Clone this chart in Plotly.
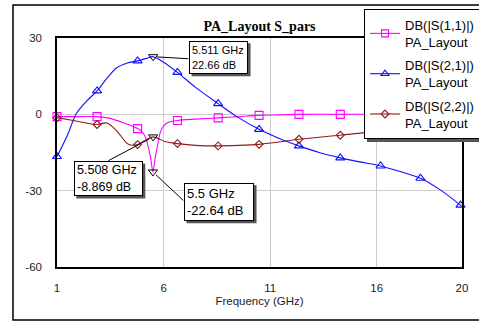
import plotly.graph_objects as go

# ---------------- data ----------------
s11_freq = [1.0, 2.0, 2.86, 3.5, 4.2, 4.78, 5.0, 5.15, 5.3, 5.4, 5.5, 5.6, 5.7, 5.85,
            6.0, 6.2, 6.65, 7.5, 8.56, 9.5, 10.48, 11.4, 12.35, 14.29, 16.18, 18.05, 20.0]
s11_db = [-0.9, -0.9, -0.9, -1.6, -3.6, -5.6, -7.0, -9.0, -13.5, -17.5, -22.64, -17.5, -13.0, -7.0,
          -4.6, -3.2, -2.4, -1.9, -1.4, -0.9, -0.4, -0.2, 0.0, 0.0, 0.1, 0.1, 0.1]

s21_freq = [1.0, 1.5, 1.9, 2.4, 2.88, 3.3, 3.8, 4.3, 4.78, 5.2, 5.511, 6.0, 6.65, 7.5, 8.56,
            9.4, 10.48, 11.4, 12.35, 13.3, 14.29, 15.2, 16.18, 17.1, 18.05, 19.0, 20.0]
s21_db = [-16.6, -8.0, 0.2, 5.3, 9.2, 13.7, 18.3, 20.2, 21.0, 22.0, 22.66, 20.5, 16.5, 10.6, 4.2,
          -0.7, -5.9, -9.4, -12.4, -15.0, -17.1, -18.7, -20.3, -22.5, -25.1, -29.8, -36.2]

s22_freq = [1.0, 1.9, 2.86, 3.35, 3.8, 4.35, 4.78, 5.1, 5.508, 6.1, 6.65, 7.5, 8.56, 9.5,
            10.48, 11.4, 12.35, 13.3, 14.29, 16.18, 18.05, 20.0]
s22_db = [-1.3, -2.6, -4.0, -3.4, -6.5, -11.8, -11.9, -10.4, -8.869, -10.8, -11.5, -12.2, -12.4, -12.2,
          -11.8, -10.9, -9.8, -9.0, -8.2, -6.6, -5.5, -4.5]

# symbol markers along each trace
mark_freq = [1.0, 2.88, 4.78, 6.65, 8.56, 10.48, 12.35, 14.29, 16.18, 18.05, 19.93]
s11_mark = [-0.9, -0.9, -5.6, -2.4, -1.4, -0.4, 0.0, 0.0, 0.1, 0.1, 0.1]
s21_mark = [-16.6, 9.2, 21.0, 16.5, 4.2, -5.9, -12.4, -17.1, -20.3, -25.1, -35.7]
s22_mark = [-1.3, -4.0, -11.9, -11.5, -12.4, -11.8, -9.8, -8.2, -6.6, -5.5, -4.5]

# marker readouts
readout_freq = [5.511, 5.508, 5.5]
readout_db = [22.66, -8.869, -22.64]

series_names = ["DB(|S(1,1)|)<br>PA_Layout", "DB(|S(2,1)|)<br>PA_Layout", "DB(|S(2,2)|)<br>PA_Layout"]
x_ticks = [1, 6, 11, 16, 20]
y_ticks = [30, 0, -30, -60]

# ---------------- figure ----------------
W, H = 479, 322
ML, MR, MT, MB = 57, 17, 38, 55
PW, PH = W - ML - MR, H - MT - MB

def px2paper(px, py):
    return (px - ML) / PW, (H - MB - py) / PH

FONT = "Liberation Sans, Arial, sans-serif"
colors = ["#FF00FF", "#1010FF", "#8E1B1B"]
symbols = ["square-open", "triangle-up-open", "diamond-open"]
msizes = [8, 8, 6]
curves = [(s11_freq, s11_db), (s21_freq, s21_db), (s22_freq, s22_db)]
marks = [s11_mark, s21_mark, s22_mark]

fig = go.Figure()
for i in range(3):
    fx, fy = curves[i]
    fig.add_trace(go.Scatter(x=fx, y=fy, mode="lines", line=dict(color=colors[i], width=1.1, shape="spline", smoothing=0.8),
                             showlegend=False, hoverinfo="skip", legendgroup=f"g{i}"))
    fig.add_trace(go.Scatter(x=mark_freq, y=marks[i], mode="markers", cliponaxis=False,
                             marker=dict(symbol=symbols[i], size=msizes[i], color=colors[i], line=dict(width=1.1, color=colors[i])),
                             showlegend=False, legendgroup=f"g{i}"))
    fig.add_trace(go.Scatter(x=[None], y=[None], mode="lines+markers", name=series_names[i], legendgroup=f"g{i}",
                             line=dict(color=colors[i], width=1.1),
                             marker=dict(symbol=symbols[i], size=7 if i != 2 else 6, color=colors[i], line=dict(width=1.1, color=colors[i]))))

# readout marker symbols
fig.add_trace(go.Scatter(x=readout_freq, y=readout_db, mode="markers", showlegend=False, cliponaxis=False,
                         marker=dict(symbol="triangle-down-open", size=8, color="black", line=dict(width=1, color="black"))))

# readout boxes: (xshift, yshift-up, box W, box H, font size, arrow ax, arrow ay)
box_geo = [(65.4, -0.5, 59, 33, 11, 35.7, 2.1),
           (-44.8, -41.6, 69, 35, 12.5, -45.2, 24.1),
           (66.1, -29.8, 70, 38, 13, 30.9, 29.0)]
shapes = []
for k in range(3):
    xs, ys, bw_, bh_, fs, axp, ayp = box_geo[k]
    fx, fy = readout_freq[k], readout_db[k]
    label = f"{fx:g} GHz<br>{fy:g} dB"
    # leader line
    fig.add_annotation(x=fx, y=fy, xref="x", yref="y", text=" ", font=dict(size=1),
                       showarrow=True, arrowhead=0, arrowwidth=1, arrowcolor="black",
                       ax=axp, ay=ayp, axref="pixel", ayref="pixel", standoff=4, borderpad=0)
    # shadow
    shapes.append(dict(type="rect", xref="x", yref="y", xsizemode="pixel", ysizemode="pixel",
                       xanchor=fx, yanchor=fy,
                       x0=xs - bw_ / 2 + 2.5, x1=xs + bw_ / 2 + 2.5,
                       y0=ys - bh_ / 2 - 2.5, y1=ys + bh_ / 2 - 2.5,
                       fillcolor="#555555", line=dict(width=0), layer="above"))
    fig.add_annotation(x=fx, y=fy, xref="x", yref="y", text=label, showarrow=False,
                       xanchor="center", yanchor="middle", xshift=xs, yshift=ys,
                       width=bw_ - 6, height=bh_ - 6, borderpad=2, borderwidth=1,
                       bordercolor="black", bgcolor="white", align="left",
                       font=dict(family=FONT, size=fs, color="black"))

# legend shadow and outer frame
LEG_LEFT = 364
lx0, ly0 = px2paper(LEG_LEFT + 3, 13)
lx1, ly1 = px2paper(520, 142)
shapes.append(dict(type="rect", xref="paper", yref="paper", x0=lx0, x1=lx1, y0=ly1, y1=ly0,
                   fillcolor="#555555", line=dict(width=0), layer="above"))
fx0, fy0 = px2paper(13, 5)
fx1, fy1 = px2paper(520, 320)
shapes.append(dict(type="rect", xref="paper", yref="paper", x0=fx0, x1=fx1, y0=fy1, y1=fy0,
                   fillcolor="rgba(0,0,0,0)", line=dict(width=1.5, color="black"), layer="below"))

legx, legy = px2paper(LEG_LEFT, 9)

fig.update_layout(
    width=W, height=H, margin=dict(l=ML, r=MR, t=MT, b=MB, autoexpand=False),
    paper_bgcolor="white", plot_bgcolor="white",
    font=dict(family=FONT, size=11.5, color="#222222"),
    title=dict(text="<b>PA_Layout S_pars</b>", x=(ML + PW / 2) / W, xanchor="center",
               y=1 - 26 / H, yanchor="middle", yref="container",
               font=dict(family="Liberation Serif, Times New Roman, serif", size=14, color="black")),
    xaxis=dict(range=[1, 20], tickvals=x_ticks, ticktext=[str(t) for t in x_ticks],
               showgrid=True, gridcolor="#CCCCCC", gridwidth=1, zeroline=False,
               showline=True, linecolor="black", linewidth=1.5, mirror=True,
               ticks="outside", ticklen=9, tickcolor="rgba(0,0,0,0)",
               title=dict(text="Frequency (GHz)", font=dict(size=11.5, color="#222222"), standoff=4)),
    yaxis=dict(range=[-60, 30], tickvals=y_ticks, ticktext=[str(t) for t in y_ticks],
               showgrid=True, gridcolor="#CCCCCC", gridwidth=1, zeroline=False,
               showline=True, linecolor="black", linewidth=1.5, mirror=True,
               ticks="outside", ticklen=11, tickcolor="rgba(0,0,0,0)"),
    legend=dict(x=legx, y=legy, xanchor="left", yanchor="top", bgcolor="white",
                bordercolor="black", borderwidth=1, font=dict(family=FONT, size=13, color="black"),
                tracegroupgap=3.5, traceorder="grouped"),
    shapes=shapes,
)

fig.write_html("out.html")
